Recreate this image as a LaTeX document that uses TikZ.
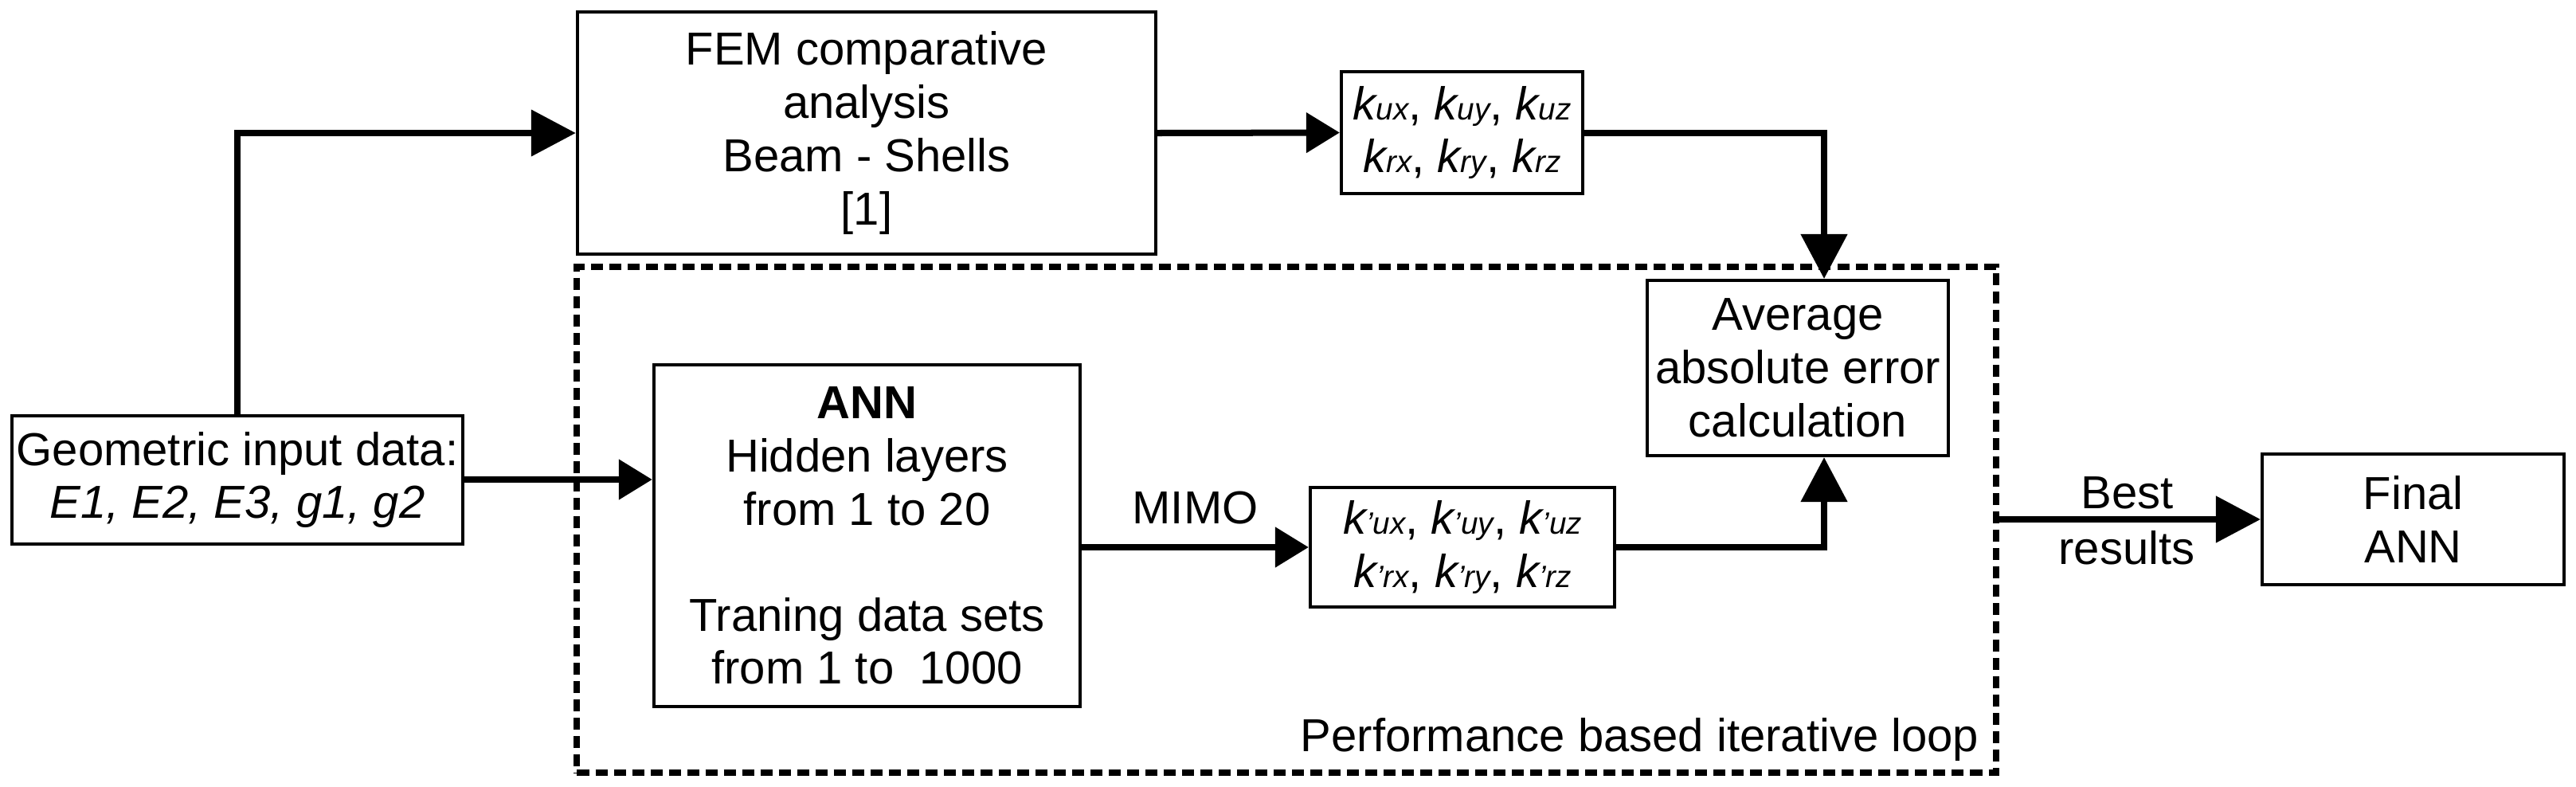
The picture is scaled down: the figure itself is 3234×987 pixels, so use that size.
\documentclass[tikz,border=0pt]{standalone}
\usepackage{fontspec}
\setmainfont{Liberation Sans}
\usetikzlibrary{arrows.meta}
\newcommand{\kvar}[1]{\textit{k{\fontsize{11}{11}\selectfont #1}}}
\begin{document}
\begin{tikzpicture}[x=0.01cm,y=-0.01cm,
  txt/.style={font=\fontsize{16.5}{19}\selectfont},
  box/.style={draw, line width=0.04cm, align=center, inner sep=0pt, txt},
  arrbig/.style={line width=0.08cm, -{Triangle[length=0.56cm,width=0.57cm]}},
  arrsmall/.style={line width=0.08cm, -{Triangle[length=0.42cm,width=0.49cm]}},
  loopbox/.style={draw, line width=0.08cm, dash pattern=on 0.15cm off 0.08cm, inner sep=0pt},
  lbl/.style={inner sep=0pt, align=center, txt}]
\useasboundingbox (0,0) rectangle (3234,987);

% dashed loop
\node[loopbox, minimum width=17.8cm, minimum height=6.35cm] (loop) at (1615,652.5) {};
\node[lbl, anchor=east] (perf) at (2485,928) {Performance based iterative loop};

% boxes
\node[box, minimum width=7.26cm, minimum height=3.04cm] (fem) at (1088,167)
  {FEM comparative\\analysis\\Beam - Shells\\{[1]}};
\node[box, minimum width=3.03cm, minimum height=1.53cm] (kbox) at (1835.5,166.5)
  {\kvar{ux}, \kvar{uy}, \kvar{uz}\\\kvar{rx}, \kvar{ry}, \kvar{rz}};
\node[box, minimum width=5.66cm, minimum height=1.61cm] (geo) at (298,602.5)
  {Geometric input data:\\\textit{E1, E2, E3, g1, g2}};
\node[box, minimum width=5.35cm, minimum height=4.29cm] (ann) at (1088.5,672.5)
  {\textbf{ANN}\\Hidden layers\\from 1 to 20\\[0.66cm]Traning data sets\\from 1 to \ 1000};
\node[box, minimum width=3.82cm, minimum height=1.50cm] (kpbox) at (1836,687)
  {\kvar{’ux}, \kvar{’uy}, \kvar{’uz}\\\kvar{’rx}, \kvar{’ry}, \kvar{’rz}};
\node[box, minimum width=3.78cm, minimum height=2.20cm] (avg) at (2257,462)
  {Average\\absolute error\\calculation};
\node[box, minimum width=3.79cm, minimum height=1.64cm] (final) at (3029.5,652)
  {Final\\ANN};

\coordinate (jx) at (2290,0);

% connectors
\draw[arrbig] (geo.north) |- (fem.west);
\draw[arrsmall] (fem.east) -- (kbox.west);
\draw[arrbig] (kbox.east) -| (jx |- avg.north);
\draw[arrsmall] (geo.east |- 0,602) -- (ann.west |- 0,602);
\draw[arrsmall] (ann.east |- kpbox.west) -- node[lbl, above=0.25cm] (mimo) {MIMO} (kpbox.west);
\draw[arrbig] (kpbox.east) -| (jx |- avg.south);
\draw[arrbig] (loop.east |- final.west) -- (final.west);
\node[lbl] (best) at (2671,619) {Best};
\node[lbl] (res) at (2670,688) {results};
\end{tikzpicture}
\end{document}
